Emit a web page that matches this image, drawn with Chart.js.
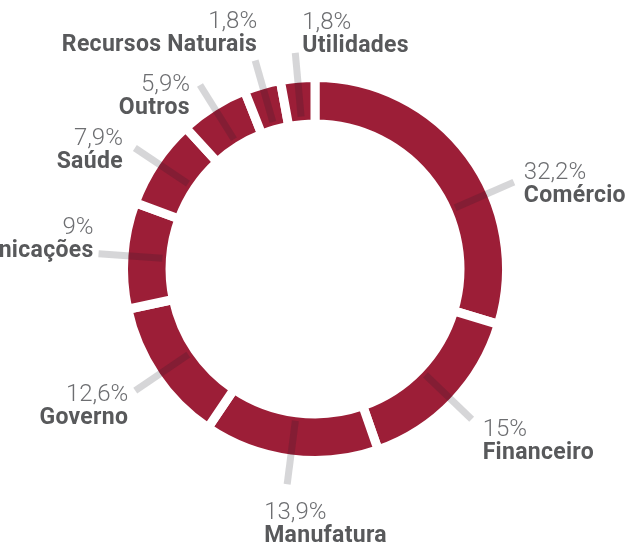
<!DOCTYPE html>
<html>
<head>
<meta charset="utf-8">
<script src="https://cdn.jsdelivr.net/npm/chart.js@4/dist/chart.umd.min.js"></script>
<style>
    html, body { margin: 0; padding: 0; background: #fff; }
    #wrap { width: 631px; height: 545px; position: relative; }
</style>
</head>
<body>
<div id="wrap"><canvas id="sectorChart"></canvas></div>
<script>
// setores, na ordem do anel (sentido horario a partir do topo)
const sectors = ['Comércio', 'Financeiro', 'Manufatura', 'Governo', 'Comunicações', 'Saúde', 'Outros', 'Recursos Naturais', 'Utilidades'];
// textos de percentual como aparecem no grafico
const shareLabels = ['32,2%', '15%', '13,9%', '12,6%', '9%', '7,9%', '5,9%', '1,8%', '1,8%'];
// tamanho de cada arco como desenhado no grafico original
const arcShares = [29.7, 15.0, 14.8, 12.2, 9.0, 7.6, 5.8, 3.1, 2.9];

// estilo dos rotulos: deslocamento do texto em relacao a ponta da linha guia
const labelStyle = [
    { dx: 10, dy: -3, align: 'left', turn: 13 },
    { dx: 11, dy: 17, align: 'left', turn: 0 },
    { dx: -23, dy: 35, align: 'left', turn: 0 },
    { dx: -7, dy: 10, align: 'right', turn: 0 },
    { dx: -5, dy: -20, align: 'right', turn: 0 },
    { dx: -12, dy: -3, align: 'right', turn: 0 },
    { dx: -10, dy: 6, align: 'right', turn: 0 },
    { dx: 2, dy: -32, align: 'right', turn: 0 },
    { dx: 7, dy: -24, align: 'left', turn: 0 }
];

const ringColor = '#9c1e37';

const leaderLabels = {
    id: 'leaderLabels',
    afterDatasetsDraw(chart) {
        const ctx = chart.ctx;
        const arcs = chart.getDatasetMeta(0).data;
        ctx.save();
        arcs.forEach((arc, i) => {
            const p = arc.getProps(['x', 'y', 'startAngle', 'endAngle']);
            const st = labelStyle[i];
            const a = (p.startAngle + p.endAngle) / 2 + st.turn * Math.PI / 180;
            const r0 = 153, r1 = 217;
            const x0 = p.x + r0 * Math.cos(a), y0 = p.y + r0 * Math.sin(a);
            const x1 = p.x + r1 * Math.cos(a), y1 = p.y + r1 * Math.sin(a);

            ctx.beginPath();
            ctx.moveTo(x0, y0);
            ctx.lineTo(x1, y1);
            ctx.lineWidth = 7;
            ctx.lineCap = 'butt';
            ctx.strokeStyle = 'rgba(25, 30, 40, 0.18)';
            ctx.stroke();

            const tx = x1 + st.dx;
            const ty = y1 + st.dy;
            ctx.textAlign = st.align;
            ctx.textBaseline = 'alphabetic';
            ctx.letterSpacing = '0px';
            ctx.fillStyle = '#6d6e71';
            ctx.font = '300 24px Roboto';
            ctx.fillText(shareLabels[i], tx, ty);
            ctx.fillStyle = '#58595b';
            ctx.font = 'bold 23px Roboto';
            ctx.letterSpacing = '0.3px';
            ctx.fillText(sectors[i], tx, ty + 23);
        });
        ctx.restore();
    }
};

new Chart(document.getElementById('sectorChart'), {
    type: 'doughnut',
    data: {
        labels: sectors,
        datasets: [{
            data: arcShares,
            backgroundColor: ringColor,
            hoverBackgroundColor: ringColor,
            borderColor: '#ffffff',
            borderWidth: 9
        }]
    },
    options: {
        responsive: true,
        maintainAspectRatio: false,
        animation: false,
        radius: 191.5,
        cutout: '75.7%',
        rotation: 0,
        layout: { padding: { top: 0, bottom: 7, left: 0, right: 1 } },
        plugins: {
            legend: { display: false },
            tooltip: { enabled: false }
        }
    },
    plugins: [leaderLabels]
});
</script>
</body>
</html>
